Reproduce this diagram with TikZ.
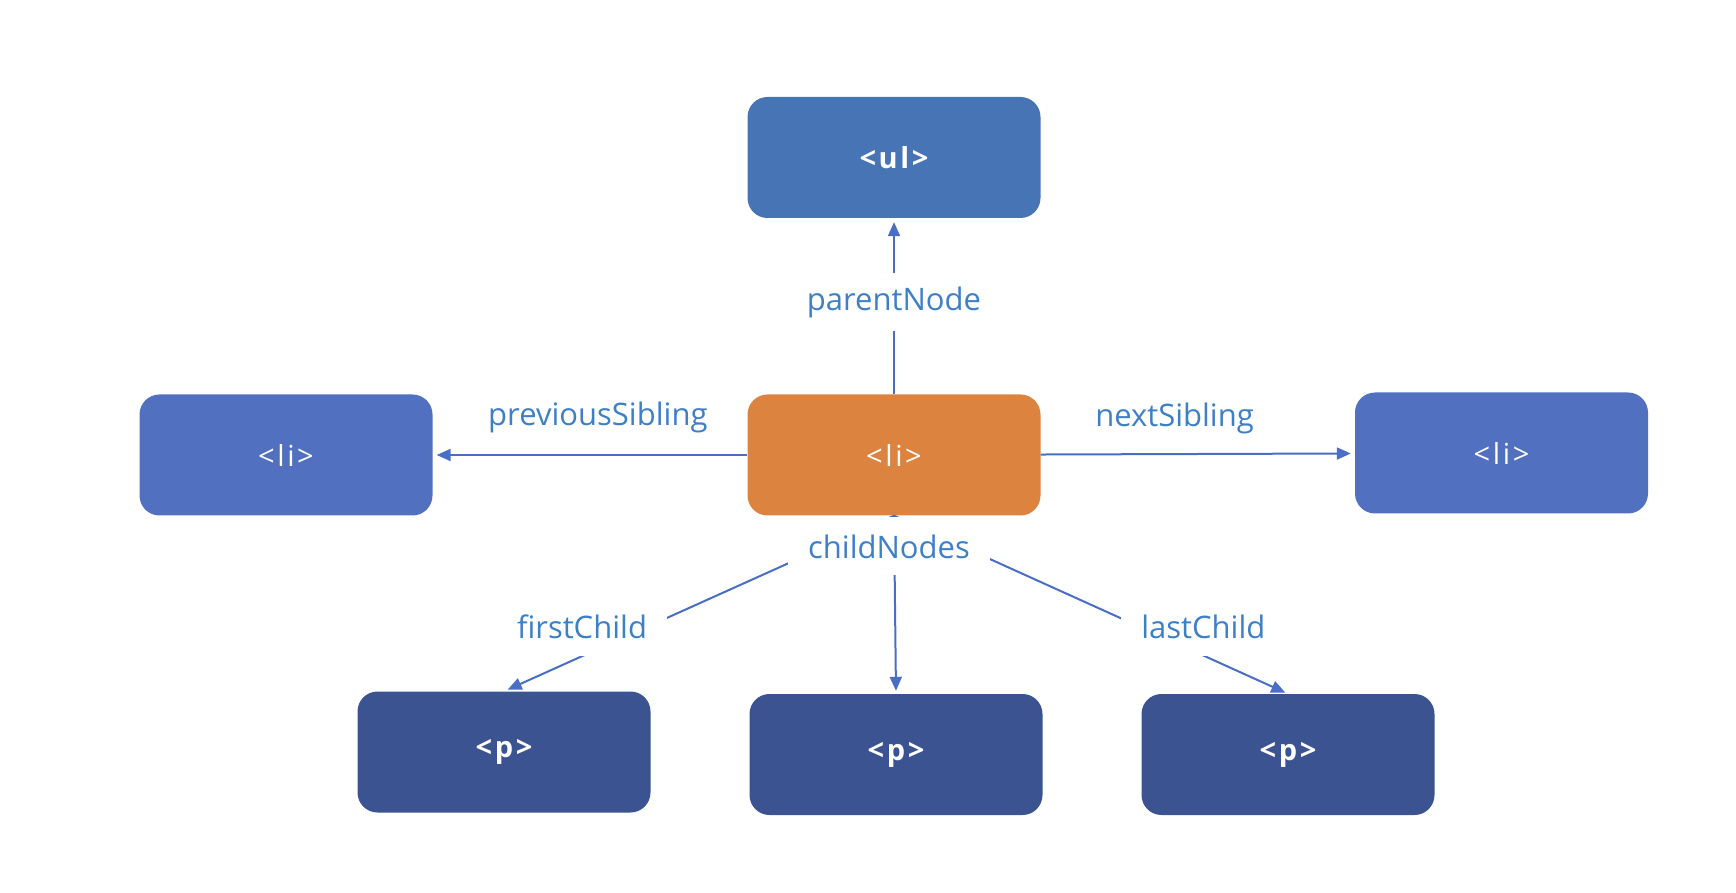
\documentclass[tikz,border=0pt]{standalone}
\usepackage{fontspec}
\setmainfont{Open Sans}
\newfontfamily\tagfont[LetterSpace=9]{Open Sans}
\usetikzlibrary{arrows.meta, positioning}
\usepackage{xcolor}
\definecolor{ulblue}{RGB}{70,116,180}
\definecolor{liblue}{RGB}{81,112,191}
\definecolor{liorange}{RGB}{221,131,64}
\definecolor{pblue}{RGB}{59,84,145}
\definecolor{lblblue}{RGB}{62,128,200}
\definecolor{arrblue}{RGB}{72,110,198}

\begin{document}
\begin{tikzpicture}[x=1pt, y=1pt,
  elem/.style={rectangle, rounded corners=20pt, minimum width=293pt, minimum height=121pt,
               text=white, font=\tagfont\fontsize{29}{29}\selectfont},
  lbl/.style={fill=white, text=lblblue, font=\fontsize{31}{31}\selectfont,
              inner xsep=20pt, inner ysep=0pt, minimum height=58pt},
  arr/.style={-{Triangle[length=14pt, width=12pt]}, line width=2pt, draw=arrblue, shorten >=4pt}
]
\useasboundingbox (0,0) rectangle (1736,892);

\node[elem, fill=ulblue]   (ul)   at (894,734.5)  {\bfseries <ul>};
\node[elem, fill=liorange] (cur)  at (894,437)    {<li>};
\node[elem, fill=liblue]   (prev) at (286,437)    {<li>};
\node[elem, fill=liblue]   (next) at (1501.5,439) {<li>};
\node[elem, fill=pblue]    (p1)   at (504,140)    {\bfseries <p>};
\node[elem, fill=pblue]    (p2)   at (896,137.5)  {\bfseries <p>};
\node[elem, fill=pblue]    (p3)   at (1288,137.5) {\bfseries <p>};

\draw[arr] (cur) -- node[lbl, pos=.523] {parentNode} (ul);
\draw[arr] (cur) -- node[lbl, pos=.475, yshift=38pt] {previousSibling} (prev);
\draw[arr] (cur) -- node[lbl, pos=.426, yshift=36pt] {nextSibling} (next);
\draw[arr] (cur.south) -- node[lbl, pos=.8, yshift=29.5pt] {firstChild} (p1.north);
\draw[arr, shorten >=3pt] (cur.south) -- (p2.north);
\draw[arr, shorten >=3pt] (cur.south) -- node[lbl, pos=.785, yshift=28.5pt] {lastChild} (p3.north);

\node[lbl] (chn) at (889,345.5) {childNodes};
\end{tikzpicture}
\end{document}
